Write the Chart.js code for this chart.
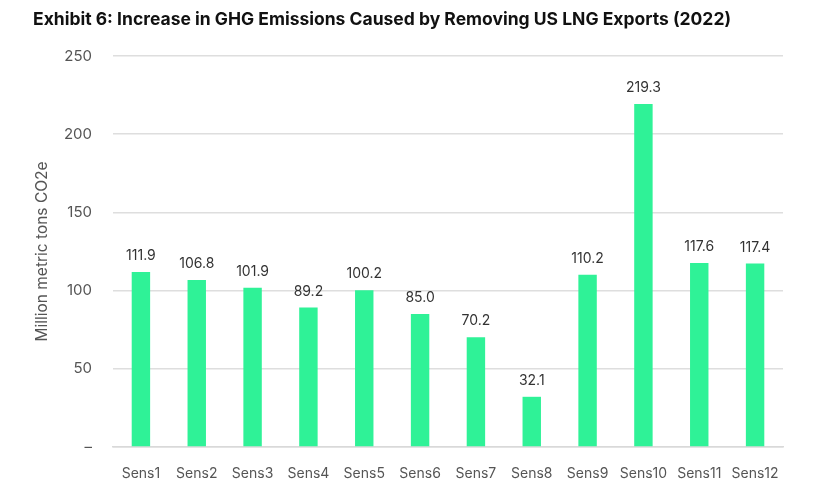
<!DOCTYPE html>
<html>
<head>
<meta charset="utf-8">
<script src="https://cdn.jsdelivr.net/npm/chart.js@4"></script>
<style>
  html, body { margin: 0; padding: 0; background: #fff; }
  #wrap { width: 835px; height: 484px; }
</style>
</head>
<body>
<div id="wrap"><canvas id="ghgChart"></canvas></div>
<script>
const categories = ["Sens1", "Sens2", "Sens3", "Sens4", "Sens5", "Sens6", "Sens7", "Sens8", "Sens9", "Sens10", "Sens11", "Sens12"];
const emissions = [111.9, 106.8, 101.9, 89.2, 100.2, 85.0, 70.2, 32.1, 110.2, 219.3, 117.6, 117.4];
const yTicks = [0, 50, 100, 150, 200, 250];

const FONT = "Inter, 'DejaVu Sans', sans-serif";

// value labels above each bar
const barLabels = {
  id: "barLabels",
  afterDatasetsDraw(chart) {
    const ctx = chart.ctx;
    const meta = chart.getDatasetMeta(0);
    ctx.save();
    ctx.font = "14px " + FONT;
    ctx.fillStyle = "#333";
    ctx.textAlign = "center";
    ctx.textBaseline = "middle";
    meta.data.forEach((bar, i) => {
      ctx.fillText(emissions[i].toFixed(1), bar.x, bar.y - 16);
    });
    ctx.restore();
  }
};

new Chart(document.getElementById("ghgChart"), {
  type: "bar",
  data: {
    labels: categories,
    datasets: [{
      data: emissions,
      backgroundColor: "#2ff297",
      barPercentage: 0.33,
      categoryPercentage: 1
    }]
  },
  options: {
    responsive: true,
    maintainAspectRatio: false,
    animation: false,
    layout: { padding: { left: 33, right: 52, top: 0, bottom: 0 } },
    plugins: {
      legend: { display: false },
      tooltip: { enabled: false },
      title: {
        display: true,
        text: "Exhibit 6: Increase in GHG Emissions Caused by Removing US LNG Exports (2022)",
        align: "start",
        color: "#111",
        font: { family: FONT, size: 17.5, weight: "bold" },
        padding: { top: 9, bottom: 26 }
      }
    },
    scales: {
      y: {
        min: 0,
        max: 250,
        afterBuildTicks(scale) {
          scale.ticks = yTicks.map(v => ({ value: v }));
        },
        afterFit(scale) { scale.width = 80; },
        border: { display: false },
        grid: { color: "#dedede", lineWidth: 1.5, drawTicks: false },
        ticks: {
          padding: 21,
          color: "#555",
          font: { family: FONT, size: 15 },
          callback: v => (v === 0 ? "–" : v)
        },
        title: {
          display: true,
          text: "Million metric tons CO2e",
          color: "#555",
          font: { family: FONT, size: 15.5 },
          padding: { top: 0, bottom: 0 }
        }
      },
      x: {
        afterFit(scale) { scale.height = 37; },
        border: { display: true, color: "#d9d9d9", width: 1.5 },
        grid: { display: false },
        ticks: {
          color: "#555",
          padding: 10,
          font: { family: FONT, size: 14 }
        }
      }
    }
  },
  plugins: [barLabels]
});
</script>
</body>
</html>
